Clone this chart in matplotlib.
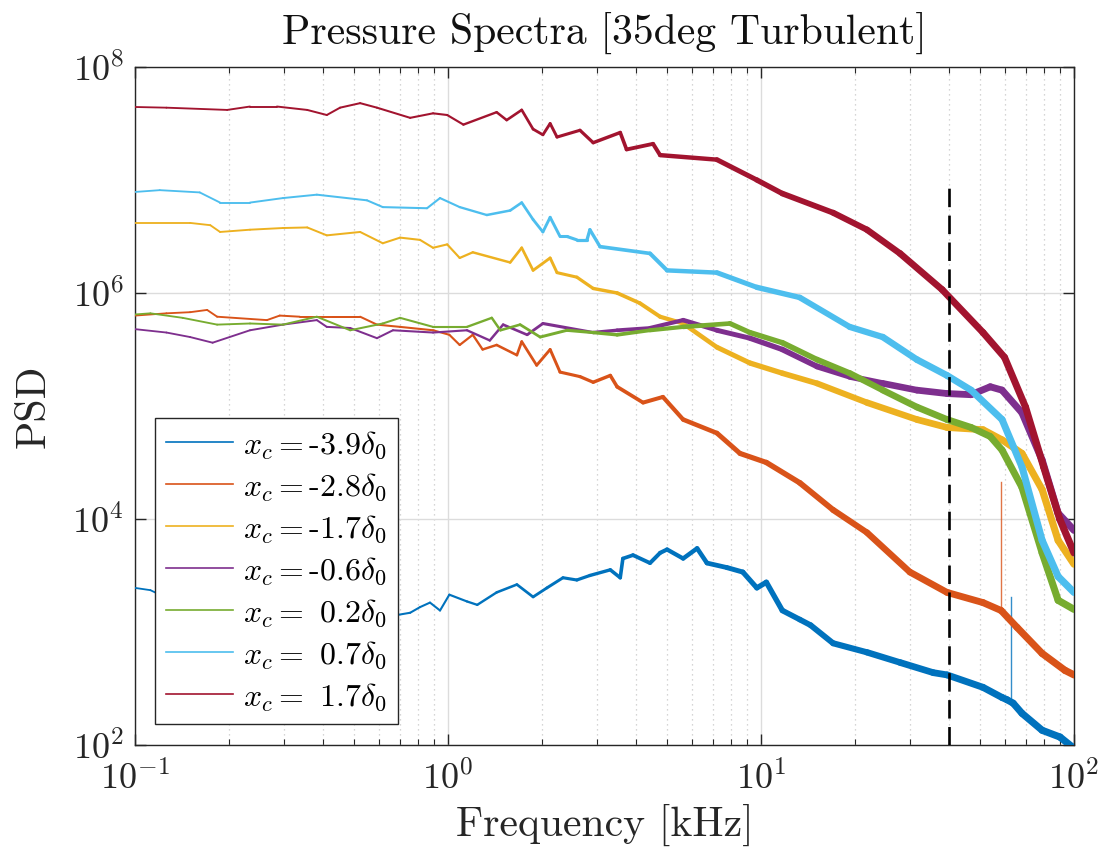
import numpy as np
import matplotlib
matplotlib.use("Agg")
import matplotlib.pyplot as plt
from matplotlib.collections import LineCollection
from matplotlib.lines import Line2D
from matplotlib.ticker import FixedLocator, NullLocator, LogLocator, LogFormatterSciNotation

plt.rcParams['font.family'] = ['cmr10', 'DejaVu Serif']
plt.rcParams['mathtext.fontset'] = 'cm'
plt.rcParams['axes.unicode_minus'] = False
plt.rcParams['axes.formatter.use_mathtext'] = True

# ---------------- data (frequency in kHz, PSD as log10 values) ----------------
labels = [r"$x_c=$-3.9$\delta_0$", r"$x_c=$-2.8$\delta_0$", r"$x_c=$-1.7$\delta_0$",
          r"$x_c=$-0.6$\delta_0$", r"$x_c=$ 0.2$\delta_0$", r"$x_c=$ 0.7$\delta_0$",
          r"$x_c=$ 1.7$\delta_0$"]
colors = ["#0072BD", "#D95319", "#EDB120", "#7E2F8E", "#77AC30", "#4DBEEE", "#A2142F"]

f_m39 = [0.1, 0.112, 0.12, 0.2, 0.4, 0.6, 0.687, 0.757, 0.814, 0.876, 0.943, 1.01, 1.15, 1.24,
         1.43, 1.66, 1.87, 2.07, 2.33, 2.58, 2.84, 3.30, 3.55, 3.62, 3.90, 4.42, 4.76, 5.01, 5.64,
         6.25, 6.72, 7.78, 8.75, 9.7, 10.4, 11.7, 13.3, 14.4, 17.0, 21.8, 27.8, 35.5, 39.3, 51.2,
         58.9, 61.1, 63.9, 68.2, 79.1, 90.2, 100]
lp_m39 = [3.39, 3.37, 3.33, 3.25, 3.17, 3.14, 3.15, 3.17, 3.22, 3.26, 3.19, 3.33, 3.27, 3.24,
          3.35, 3.42, 3.31, 3.39, 3.48, 3.46, 3.50, 3.55, 3.48, 3.65, 3.68, 3.61, 3.70, 3.73, 3.65,
          3.74, 3.61, 3.57, 3.53, 3.39, 3.44, 3.19, 3.11, 3.06, 2.90, 2.82, 2.73, 2.64, 2.62, 2.51,
          2.42, 2.40, 2.37, 2.28, 2.13, 2.07, 1.97]

f_m28 = [0.1, 0.126, 0.15, 0.170, 0.183, 0.264, 0.290, 0.336, 0.430, 0.524, 0.593, 0.703, 0.896,
         1.01, 1.09, 1.20, 1.29, 1.43, 1.66, 1.72, 1.92, 2.12, 2.28, 2.64, 2.91, 3.30, 3.47, 4.20,
         4.86, 5.64, 7.23, 8.57, 10.4, 13.3, 17.0, 21.8, 29.9, 39.3, 51.2, 58.5, 65.8,
         79.1, 93.6, 100]
lp_m28 = [5.80, 5.82, 5.83, 5.85, 5.79, 5.76, 5.80, 5.79, 5.79, 5.79, 5.72, 5.70, 5.67,
          5.63, 5.54, 5.63, 5.50, 5.54, 5.45, 5.57, 5.36, 5.50, 5.30, 5.26, 5.21, 5.27, 5.17, 5.03,
          5.08, 4.88, 4.76, 4.58, 4.50, 4.32, 4.08, 3.88, 3.53, 3.35, 3.26, 3.19, 3.04,
          2.81, 2.66, 2.62]

f_m17 = [0.1, 0.15, 0.174, 0.187, 0.233, 0.297, 0.355, 0.41, 0.524, 0.619, 0.703, 0.814, 0.896,
         0.994, 1.09, 1.20, 1.58, 1.72, 1.87, 2.12, 2.23, 2.58, 2.91, 3.47, 4.10, 4.76, 5.64, 7.23,
         9.22, 11.7, 15.1, 21.8, 31.5, 39.3, 51.2, 58.9, 68.2, 79.1, 89, 100]
lp_m17 = [6.62, 6.62, 6.60, 6.54, 6.56, 6.575, 6.58, 6.51, 6.54, 6.44, 6.49, 6.47, 6.40,
          6.43, 6.31, 6.36, 6.27, 6.40, 6.20, 6.31, 6.18, 6.14, 6.04, 6.00, 5.91, 5.79, 5.73, 5.52,
          5.38, 5.29, 5.20, 5.03, 4.88, 4.81, 4.79, 4.70, 4.58, 4.26, 3.81, 3.60]

f_m06 = [0.1, 0.126, 0.15, 0.177, 0.233, 0.297, 0.381, 0.41, 0.487, 0.593, 0.667, 0.896, 1.15,
         1.36, 1.50, 1.79, 2.01, 2.91, 3.47, 4.42, 5.64, 7.23, 9.22, 11.7, 15.1, 19.2, 24.5, 31.5,
         39.3, 46.9, 54, 58.9, 68.2, 79.1, 89, 100]
lp_m06 = [5.68, 5.65, 5.61, 5.56, 5.67, 5.72, 5.76, 5.70, 5.69, 5.60, 5.67, 5.65, 5.67,
          5.58, 5.72, 5.63, 5.73, 5.65, 5.67, 5.69, 5.76, 5.67, 5.60, 5.50, 5.35, 5.26, 5.20, 5.14,
          5.11, 5.10, 5.17, 5.14, 4.94, 4.52, 4.05, 3.90]

f_p02 = [0.1, 0.112, 0.142, 0.183, 0.233, 0.297, 0.381, 0.487, 0.619, 0.703, 0.896, 1.15, 1.38,
         1.47, 1.70, 1.97, 2.40, 2.91, 3.47, 4.42, 5.64, 7.96, 9.22, 11.7, 15.1, 19.2, 24.5, 31.5,
         39.3, 46.9, 54, 58.9, 68.2, 79.1, 89, 100]
lp_p02 = [5.81, 5.82, 5.78, 5.72, 5.73, 5.72, 5.79, 5.67, 5.73, 5.78, 5.70, 5.70, 5.78,
          5.67, 5.72, 5.61, 5.67, 5.65, 5.63, 5.67, 5.70, 5.73, 5.65, 5.56, 5.41, 5.29, 5.14, 4.99,
          4.88, 4.81, 4.73, 4.61, 4.28, 3.70, 3.28, 3.20]

f_p07 = [0.1, 0.12, 0.161, 0.187, 0.233, 0.297, 0.381, 0.551, 0.619, 0.857, 0.943, 1.09, 1.33,
         1.58, 1.72, 1.87, 2.01, 2.12, 2.28, 2.40, 2.58, 2.78, 2.84, 3.06, 4.42, 5.01, 7.23, 9.7,
         13.3, 19.2, 24.5, 31.5, 39.3, 46.9, 58.9, 68.2, 79.1, 89, 100]
lp_p07 = [6.894, 6.91, 6.89, 6.80, 6.80, 6.84, 6.87, 6.82, 6.76, 6.75, 6.84, 6.76, 6.69,
          6.73, 6.80, 6.65, 6.54, 6.67, 6.50, 6.50, 6.47, 6.47, 6.56, 6.41, 6.35, 6.20, 6.18, 6.05,
          5.96, 5.70, 5.61, 5.41, 5.27, 5.14, 4.88, 4.46, 3.81, 3.49, 3.35]

f_p17 = [0.1, 0.126, 0.197, 0.233, 0.284, 0.355, 0.41, 0.452, 0.524, 0.593, 0.757, 0.896, 0.994,
         1.12, 1.43, 1.54, 1.72, 1.87, 2.01, 2.12, 2.23, 2.64, 2.91, 3.55, 3.72, 4.52, 4.76, 7.23,
         9.7, 11.7, 17, 21.8, 27.8, 37.9, 51.2, 60, 70, 80, 90, 100]
lp_p17 = [7.646, 7.64, 7.62, 7.65, 7.65, 7.62, 7.575, 7.64, 7.68, 7.64, 7.55, 7.59, 7.575,
          7.49, 7.60, 7.53, 7.62, 7.45, 7.40, 7.50, 7.38, 7.44, 7.33, 7.42, 7.27, 7.32, 7.22, 7.18,
          7.00, 6.88, 6.71, 6.56, 6.35, 6.03, 5.65, 5.43, 4.99, 4.46, 4.00, 3.70]

# narrow single-bin spikes (series index, frequency kHz, log10 base, log10 top)
spike_series = [1, 0]
spike_f = [58.5, 62.8]
spike_base = [3.19, 2.40]
spike_top = [4.33, 3.31]

series_f = [f_m39, f_m28, f_m17, f_m06, f_p02, f_p07, f_p17]
series_lp = [lp_m39, lp_m28, lp_m17, lp_m06, lp_p02, lp_p07, lp_p17]

cutoff_khz = 40
cutoff_psd_range = [1e2, 1e7]
x_ticks = [0.1, 1, 10, 100]
y_ticks = [1e2, 1e4, 1e6, 1e8]

# line thickness grows with frequency (dense noisy PSD renders as a band)
width_anchor_f = [0.1, 1.0, 3.0, 10.0, 30.0, 100.0]
width_anchor_pt = [1.3, 1.5, 2.4, 3.8, 4.8, 5.2]

# ---------------- figure ----------------
fig = plt.figure(figsize=(11.02, 8.48), dpi=100)
ax = fig.add_axes([0.1225, 0.1215, 0.8521, 0.7995])

handles = []
for i, (f, lp, c, lab) in enumerate(zip(series_f, series_lp, colors, labels)):
    f = np.asarray(f, dtype=float)
    psd = 10.0 ** np.asarray(lp, dtype=float)
    pts = np.column_stack([f, psd])
    segs = np.stack([pts[:-1], pts[1:]], axis=1)
    fmid = np.sqrt(f[:-1] * f[1:])
    widths = np.interp(np.log10(fmid), np.log10(width_anchor_f), width_anchor_pt)
    lc = LineCollection(segs, colors=c, linewidths=widths, capstyle='round',
                        joinstyle='round', zorder=3 + i * 0.01)
    ax.add_collection(lc)
    for s_i, s_f, s_b, s_t in zip(spike_series, spike_f, spike_base, spike_top):
        if s_i == i:
            ax.plot([s_f, s_f], [10 ** s_b, 10 ** s_t], color=c, lw=1.0, alpha=0.8,
                    zorder=3 + i * 0.01)
    handles.append(Line2D([], [], color=c, lw=1.2, label=lab))

ax.plot([cutoff_khz, cutoff_khz], cutoff_psd_range, color='black', lw=1.9,
        dashes=(7.0, 3.2), zorder=4)

ax.set_xscale('log')
ax.set_yscale('log')
ax.set_xlim(0.1, 100)
ax.set_ylim(1e2, 1e8)

ax.xaxis.set_major_locator(FixedLocator(x_ticks))
ax.xaxis.set_minor_locator(LogLocator(base=10, subs=np.arange(2, 10), numticks=20))
ax.xaxis.set_major_formatter(LogFormatterSciNotation())
ax.yaxis.set_major_locator(FixedLocator(y_ticks))
ax.yaxis.set_minor_locator(NullLocator())
ax.yaxis.set_major_formatter(LogFormatterSciNotation())

ax.tick_params(which='both', direction='in', top=True, right=True, color='#262626',
               labelcolor='#262626')
ax.tick_params(which='major', length=8, width=1.0, labelsize=26)
ax.tick_params(axis='x', which='major', pad=11)
ax.tick_params(axis='y', which='major', pad=8)
ax.tick_params(which='minor', length=4.5, width=0.8)

ax.grid(True, which='major', color='#dcdcdc', lw=1.0, zorder=0)
ax.grid(True, which='minor', axis='x', color='#c8c8c8', lw=0.9, ls=(0, (1, 3)), zorder=0)
ax.set_axisbelow(True)
for s in ax.spines.values():
    s.set_color('#262626')
    s.set_linewidth(1.0)

ax.set_title('Pressure Spectra [35deg Turbulent]', fontsize=30, pad=17, color='#111111')
ax.set_xlabel('Frequency [kHz]', fontsize=30, labelpad=6, color='#262626')
ax.set_ylabel('PSD', fontsize=30, labelpad=14, color='#262626')

leg = ax.legend(handles=handles, loc='lower left', bbox_to_anchor=(0.0213, 0.031),
                borderaxespad=0, fontsize=23, handlelength=2.1, handletextpad=0.3,
                labelspacing=0.32, borderpad=0.35, fancybox=False, framealpha=1,
                edgecolor='#262626')
leg.get_frame().set_linewidth(1.0)
leg.set_zorder(10)

fig.savefig('out.png', dpi=100)
